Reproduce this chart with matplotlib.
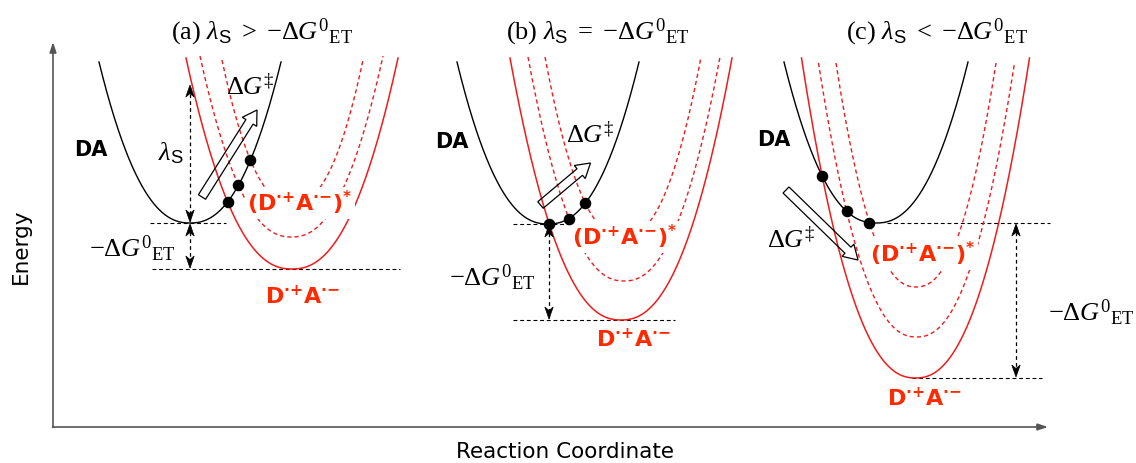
import numpy as np
import matplotlib
matplotlib.use("Agg")
import matplotlib.pyplot as plt
from matplotlib.patches import FancyArrow, Polygon

plt.rcParams["mathtext.fontset"] = "custom"
plt.rcParams["mathtext.rm"] = "Liberation Serif"
plt.rcParams["mathtext.it"] = "Liberation Serif:italic"
plt.rcParams["mathtext.bf"] = "Liberation Serif:bold"
plt.rcParams["mathtext.sf"] = "Liberation Sans"

W, H = 1136, 463

# ---- energy curves (screen units: vertex x, vertex y, half-width at top, top y) ----
EXP = 2.3
da_x0 = [190, 548, 876]
da_y0 = [223, 224, 223]
da_hw = [91, 91, 92]
da_top = [62, 62, 62]

ct_x0 = [292, 621, 915.5]
ct_y0 = [269, 320, 378]
ct_hw = [106, 111, 114]
ct_top = [58, 58, 58]

ex1_x0 = [291.5, 624, 916.5]
ex1_y0 = [237, 281, 337]
ex1_hw = [91.5, 96, 98]
ex1_top = [56, 57, 63]

ex2_x0 = [292.5, 623, 916]
ex2_y0 = [204, 237, 287]
ex2_hw = [70.5, 78, 80]
ex2_top = [60, 57, 63]

# ---- annotations ----
titles = [r"(a)$\ \lambda_{\mathsf{S}}\ >\ {-}\Delta G^{0}{}_{\mathrm{ET}}$",
          r"(b)$\ \lambda_{\mathsf{S}}\ =\ {-}\Delta G^{0}{}_{\mathrm{ET}}$",
          r"(c)$\ \lambda_{\mathsf{S}}\ <\ {-}\Delta G^{0}{}_{\mathrm{ET}}$"]
title_x = [262, 598, 937]
da_label_xy = [(91, 150), (452, 142), (774, 140)]
ex_label_xy = [(300, 203), (625, 237), (923, 254)]
ct_label_xy = [(302, 296), (633, 339), (924, 398)]
dg_label_xy = [(250, 88), (590, 136), (791, 241)]
dg0_label_xy = [(132, 249), (492, 278), (1091, 313)]
lam_label_xy = (171, 153)
lam_top = 85
# dashed guide lines (x ranges) at the DA and CT minima
da_guide = [(150, 226), (513, 580), (887, 1050)]
ct_guide = [(152, 400), (513, 675), (912, 1042)]
dg0_arrow_x = [190, 549, 1016]
# hollow arrows (tail, tip)
barrier_tail = [(202, 197), (540.5, 205), (786, 190)]
barrier_tip = [(257, 110), (590.5, 163), (858, 260)]

RED_LINE = "#ee1c1c"
RED_TEXT = "#ff2a00"
EX_LABEL = r"$\mathbf{(D^{{\cdot}{+}}A^{{\cdot}{-}})^{*}}$"
CT_LABEL = r"$\mathbf{D^{{\cdot}{+}}A^{{\cdot}{-}}}$"

fig = plt.figure(figsize=(W / 100, H / 100), dpi=100)
ax = fig.add_axes([0, 0, 1, 1])
ax.set_xlim(0, W)
ax.set_ylim(H, 0)
ax.axis("off")


def curve(x0, y0, hw, top, n=600):
    x = np.linspace(x0 - hw, x0 + hw, n)
    y = y0 - (y0 - top) * np.abs((x - x0) / hw) ** EXP
    return x, y


def crossing(a, b):
    lo = max(a[0] - a[2], b[0] - b[2])
    hi = min(a[0] + a[2], b[0] + b[2])
    x = np.linspace(lo, hi, 20000)
    fa = a[1] - (a[1] - a[3]) * np.abs((x - a[0]) / a[2]) ** EXP
    fb = b[1] - (b[1] - b[3]) * np.abs((x - b[0]) / b[2]) ** EXP
    d = fa - fb
    idx = np.where(np.sign(d[:-1]) != np.sign(d[1:]))[0]
    best = max(idx, key=lambda i: fa[i])
    return x[best], fa[best]


def head(x, y, direction, L=12, Wd=4.2, notch=3.5):
    # stealth-style arrow head; direction +1 points down the screen, -1 up
    pts = [(x, y), (x - Wd, y - direction * L), (x, y - direction * (L - notch)),
           (x + Wd, y - direction * L)]
    ax.add_patch(Polygon(pts, closed=True, fc="black", ec="black", lw=0.5, zorder=6))


dash_k = (0, (3.5, 2.5))
dash_r = (0, (3, 2.2))

for i in range(3):
    da = (da_x0[i], da_y0[i], da_hw[i], da_top[i])
    ct = (ct_x0[i], ct_y0[i], ct_hw[i], ct_top[i])
    e1 = (ex1_x0[i], ex1_y0[i], ex1_hw[i], ex1_top[i])
    e2 = (ex2_x0[i], ex2_y0[i], ex2_hw[i], ex2_top[i])

    ax.plot(*curve(*da), color="black", lw=1.0, zorder=3)
    ax.plot(*curve(*ct), color=RED_LINE, lw=1.1, zorder=2)
    ax.plot(*curve(*e1), color=RED_LINE, lw=1.0, ls=dash_r, zorder=2)
    ax.plot(*curve(*e2), color=RED_LINE, lw=1.0, ls=dash_r, zorder=2)

    for other in (ct, e1, e2):
        cx, cy = crossing(da, other)
        ax.plot(cx, cy, "o", color="black", ms=7.3, zorder=7)

    # guide lines at the minima
    ax.plot(da_guide[i], [da_y0[i]] * 2, color="black", lw=0.8, ls=dash_k, zorder=1)
    ax.plot(ct_guide[i], [ct_y0[i]] * 2, color="black", lw=0.8, ls=dash_k, zorder=1)

    # driving force arrow
    xa = dg0_arrow_x[i]
    ax.plot([xa, xa], [da_y0[i] + 2, ct_y0[i] - 2], color="black", lw=0.9,
            ls=(0, (3, 2.5)), zorder=5)
    head(xa, da_y0[i] + 1, -1)
    head(xa, ct_y0[i] - 1, +1)

    # barrier arrow
    (tx, ty), (px, py) = barrier_tail[i], barrier_tip[i]
    ax.add_patch(FancyArrow(tx, ty, px - tx, py - ty, width=8.5, head_width=17,
                            head_length=14, length_includes_head=True,
                            fc="none", ec="black", lw=0.9, zorder=6))

    ax.text(title_x[i], 32, titles[i], ha="center", va="center", fontsize=19,
            family="Liberation Serif", math_fontfamily="custom")
    ax.text(*da_label_xy[i], "DA", ha="center", va="center", fontsize=15,
            fontweight="bold", family="DejaVu Sans")
    ax.text(*ex_label_xy[i], EX_LABEL, ha="center", va="center", fontsize=16,
            color=RED_TEXT, math_fontfamily="dejavusans",
            zorder=4, bbox=dict(fc="white", ec="none", pad=1.5))
    ax.text(*ct_label_xy[i], CT_LABEL, ha="center", va="center", fontsize=16,
            color=RED_TEXT, math_fontfamily="dejavusans")
    ax.text(*dg_label_xy[i], r"$\Delta G^{\ddagger}$", ha="center", va="center",
            fontsize=19, math_fontfamily="custom")
    ax.text(*dg0_label_xy[i], r"${-}\Delta G^{0}{}_{\mathrm{ET}}$", ha="center",
            va="center", fontsize=19, math_fontfamily="custom")

# reorganisation energy arrow in panel (a)
ax.plot([dg0_arrow_x[0]] * 2, [lam_top + 2, da_y0[0] - 2], color="black", lw=0.9,
        ls=(0, (3, 2.5)), zorder=5)
head(dg0_arrow_x[0], lam_top, -1)
head(dg0_arrow_x[0], da_y0[0] - 1, +1)
ax.text(*lam_label_xy, r"$\lambda_{\mathsf{S}}$", ha="center", va="center",
        fontsize=19, math_fontfamily="custom")

# axes
ax.annotate("", xy=(53, 42), xytext=(53, 427.5),
            arrowprops=dict(arrowstyle="-|>,head_length=0.6,head_width=0.2",
                            color="#555555", lw=1.2, shrinkA=0, shrinkB=0))
ax.annotate("", xy=(1048, 427), xytext=(52.5, 427),
            arrowprops=dict(arrowstyle="-|>,head_length=0.6,head_width=0.2",
                            color="#555555", lw=1.2, shrinkA=0, shrinkB=0))
ax.text(21, 246, "Energy", rotation=90, ha="center", va="center", fontsize=15.5,
        family="DejaVu Sans")
ax.text(565, 452, "Reaction Coordinate", ha="center", va="center", fontsize=15.5,
        family="DejaVu Sans")

fig.savefig("out.png", dpi=100)
